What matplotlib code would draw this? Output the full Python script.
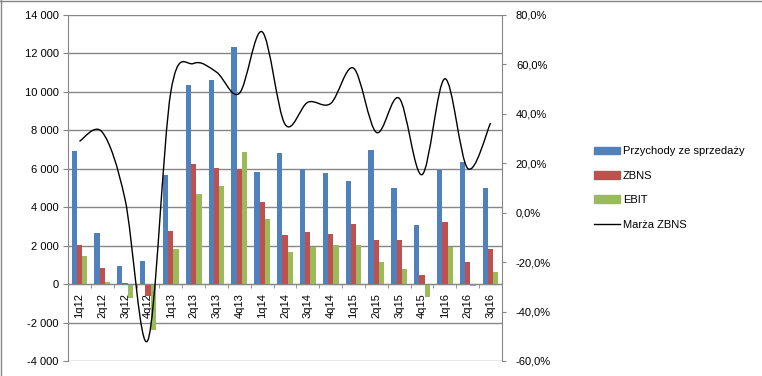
import numpy as np
import matplotlib
matplotlib.use('Agg')
import matplotlib.pyplot as plt
from matplotlib.path import Path
from matplotlib.patches import PathPatch, Patch
from matplotlib.lines import Line2D
from matplotlib.ticker import FuncFormatter

plt.rcParams['font.family'] = ['Liberation Sans', 'DejaVu Sans']
plt.rcParams['font.size'] = 8

quarters = ['1q12', '2q12', '3q12', '4q12', '1q13', '2q13', '3q13', '4q13',
            '1q14', '2q14', '3q14', '4q14', '1q15', '2q15', '3q15', '4q15',
            '1q16', '2q16', '3q16']
przychody = [6950, 2650, 940, 1200, 5700, 10340, 10600, 12310,
             5820, 6810, 6010, 5770, 5350, 6960, 4990, 3070,
             5920, 6340, 4990]
zbns = [2010, 850, 50, -620, 2770, 6230, 6030, 5990,
        4260, 2550, 2700, 2600, 3120, 2290, 2290, 470,
        3220, 1140, 1820]
ebit = [1460, 100, -710, -2370, 1820, 4680, 5090, 6860,
        3380, 1660, 1920, 2010, 2010, 1140, 780, -660,
        1920, -90, 620]
marza = [28.9, 32.6, 5.3, -51.5, 48.8, 60.4, 56.9, 48.3,
         73.2, 35.8, 44.7, 44.2, 58.5, 32.5, 46.3, 15.4,
         54.2, 17.9, 36.3]

colors = {
    'blue': '#4F81BD',
    'red': '#C0504D',
    'green': '#9BBB59',
    'grid': '#868686'
}

fig = plt.figure(figsize=(7.62, 3.76), dpi=100)
ax = fig.add_axes([68 / 762, 1 - 361 / 376, (502 - 68) / 762, (361 - 15) / 376])

x = np.arange(len(quarters))
w = 0.23
ax.bar(x - w, przychody, w, color=colors['blue'], zorder=2)
ax.bar(x, zbns, w, color=colors['red'], zorder=2)
ax.bar(x + w, ebit, w, color=colors['green'], zorder=2)

ax.set_xlim(-0.5, len(quarters) - 0.5)
ax.set_ylim(-4000, 14000)
ax.set_yticks(range(-4000, 14001, 2000))
ax.yaxis.set_major_formatter(FuncFormatter(lambda v, p: f'{int(v):,}'.replace(',', ' ')))
ax.grid(True, axis='y', color=colors['grid'], linewidth=1)
ax.set_axisbelow(True)

ax.spines['top'].set_visible(False)
ax.spines['right'].set_visible(False)
ax.spines['left'].set_color(colors['grid'])
ax.spines['bottom'].set_color(colors['grid'])
ax.spines['bottom'].set_position(('data', 0))
ax.tick_params(axis='y', direction='out', length=3.6, color=colors['grid'], pad=3)

ax.set_xticks(x)
ax.set_xticklabels(quarters, rotation=90)
ax.set_xticks(np.arange(-0.5, len(quarters), 1), minor=True)
ax.tick_params(axis='x', which='major', length=0, pad=6.5)
ax.tick_params(axis='x', which='minor', direction='out', length=3, color=colors['grid'])

ax2 = ax.twinx()
ax2.set_ylim(-60, 80)
ax2.set_yticks(range(-60, 81, 20))
ax2.yaxis.set_major_formatter(FuncFormatter(lambda v, p: f'{v:.1f}%'.replace('.', ',')))
for s in ['top', 'left', 'bottom']:
    ax2.spines[s].set_visible(False)
ax2.spines['right'].set_color(colors['grid'])
ax2.tick_params(axis='y', direction='out', length=3, color=colors['grid'], pad=7)

# smoothed line like excel (catmull-rom as bezier)
pts = np.column_stack([x, marza]).astype(float)
ext = np.vstack([pts[0], pts, pts[-1]])
verts = [tuple(pts[0])]
codes = [Path.MOVETO]
for i in range(len(pts) - 1):
    p0, p1, p2, p3 = ext[i], ext[i + 1], ext[i + 2], ext[i + 3]
    c1 = p1 + (p2 - p0) / 6
    c2 = p2 - (p3 - p1) / 6
    verts += [tuple(c1), tuple(c2), tuple(p2)]
    codes += [Path.CURVE4] * 3
ax2.add_patch(PathPatch(Path(verts, codes), fill=False, edgecolor='black', linewidth=1.0))

handles = [
    Patch(color=colors['blue'], label='Przychody ze sprzedaży'),
    Patch(color=colors['red'], label='ZBNS'),
    Patch(color=colors['green'], label='EBIT'),
    Line2D([], [], color='black', linewidth=1.0, label='Marża ZBNS'),
]
fig.legend(handles=handles, loc='center left', bbox_to_anchor=(594 / 762, 1 - 188 / 376),
           frameon=False, borderpad=0, borderaxespad=0, handlelength=2.3,
           handletextpad=0.3, labelspacing=1.3, fontsize=8)

# chart border
fig.add_artist(Line2D([0.5 / 762, 0.5 / 762], [0, 1], color=colors['grid'], linewidth=1))
fig.add_artist(Line2D([0, 1], [1 - 0.5 / 376, 1 - 0.5 / 376], color=colors['grid'], linewidth=1))

plt.savefig('out.png', dpi=100)
